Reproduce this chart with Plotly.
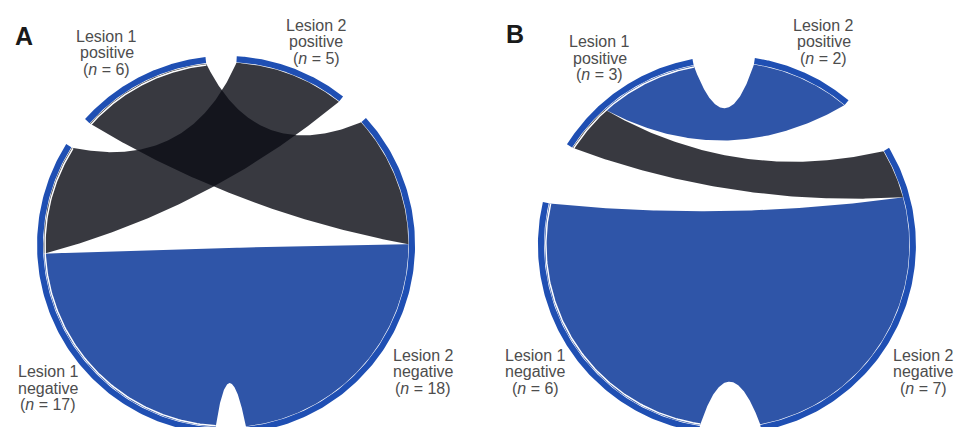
import numpy as np
import plotly.graph_objects as go

# ---------------- data ----------------
panel_letters = ["A", "B"]
status_names = ["positive", "negative"]
lesion_names = ["Lesion 1", "Lesion 2"]
# counts[lesion1 status][lesion2 status]; status order: positive, negative
counts_A = [[0, 6], [5, 12]]
counts_B = [[2, 1], [0, 6]]
panel_counts = [counts_A, counts_B]

# ---------------- style ----------------
BAND = "#1f4fb3"
BLUE = "#2f55a8"
DARK = "rgba(12,14,22,0.82)"
TEXT = "#4d4d4d"
FONT = "Liberation Sans, Arial, sans-serif"
GAP = [9.5, 19.0]          # degrees between sectors per panel
ROT = [1.5, 1.0]           # rotation of the layout per panel
R_OUT, R_IN, R_LINK, R_WHITE = 1.0, 0.968, 0.965, 0.958
K_CTRL = 0.52

# axis ranges (1 unit = 189 px)
x_ranges = [[-1.196, 1.333], [-1.317, 1.212]]
y_range = [-0.963, 1.296]


def pt(a, r):
    t = np.deg2rad(a)
    return np.array([r * np.cos(t), r * np.sin(t)])


def arc(a1, a2, r, n=120):
    t = np.deg2rad(np.linspace(a1, a2, n))
    return np.column_stack([r * np.cos(t), r * np.sin(t)])


def bez(p0, p2, n=120):
    c = K_CTRL * (p0 + p2) / 2
    t = np.linspace(0, 1, n)[:, None]
    return (1 - t) ** 2 * p0 + 2 * t * (1 - t) * c + t ** 2 * p2


def layout_sectors(counts, gap, rot):
    l1 = [sum(counts[0]), sum(counts[1])]
    l2 = [counts[0][0] + counts[1][0], counts[0][1] + counts[1][1]]
    total = sum(l1) + sum(l2)
    u = (360 - 4 * gap) / total
    s = 90 + rot + gap / 2
    sec = {}
    sec[(0, 0)] = (s, s + l1[0] * u)
    s = sec[(0, 0)][1] + gap
    sec[(0, 1)] = (s, s + l1[1] * u)
    s = sec[(0, 1)][1] + gap
    sec[(1, 1)] = (s, s + l2[1] * u)
    s = sec[(1, 1)][1] + gap
    sec[(1, 0)] = (s, s + l2[0] * u)
    return sec, u


fig = go.Figure()
annotations = []

label_pos = [
    {(0, 0): (-0.630, 1.016), (1, 0): (0.476, 1.074), (0, 1): (-0.942, -0.757), (1, 1): (1.042, -0.672)},
    {(0, 0): (-0.672, 0.989), (1, 0): (0.513, 1.074), (0, 1): (-1.011, -0.672), (1, 1): (1.040, -0.672)},
]
letter_pos = [(-1.069, 1.106), (-1.119, 1.116)]

for p, counts in enumerate(panel_counts):
    xa = "x" if p == 0 else "x2"
    ya = "y" if p == 0 else "y2"
    sec, u = layout_sectors(counts, GAP[p], ROT[p])

    # outer bands
    for key, (a1, a2) in sec.items():
        poly = np.vstack([arc(a1, a2, R_OUT), arc(a2, a1, R_IN)])
        fig.add_trace(go.Scatter(x=poly[:, 0], y=poly[:, 1], fill="toself", fillcolor=BAND,
                                 mode="lines", line=dict(width=0), hoverinfo="skip",
                                 showlegend=False, xaxis=xa, yaxis=ya))

    # link sub-segments
    seg1 = {}
    for i in (0, 1):
        a = sec[(0, i)][0]
        for j in (0, 1):
            w = counts[i][j] * u
            seg1[(i, j)] = (a, a + w)
            a += w
    seg2 = {}
    for j in (0, 1):
        a = sec[(1, j)][0]
        for i in (1, 0):
            w = counts[i][j] * u
            seg2[(i, j)] = (a, a + w)
            a += w

    links = [(i, j) for i in (0, 1) for j in (0, 1) if counts[i][j] > 0]
    links.sort(key=lambda k: 0 if k[0] == k[1] else 1)
    for (i, j) in links:
        a1, a2 = seg1[(i, j)]
        b1, b2 = seg2[(i, j)]
        poly = np.vstack([
            arc(a1, a2, R_LINK),
            bez(pt(a2, R_LINK), pt(b1, R_LINK)),
            arc(b1, b2, R_LINK),
            bez(pt(b2, R_LINK), pt(a1, R_LINK)),
        ])
        col = BLUE if i == j else DARK
        fig.add_trace(go.Scatter(x=poly[:, 0], y=poly[:, 1], fill="toself", fillcolor=col,
                                 mode="lines", line=dict(width=0), hoverinfo="skip",
                                 showlegend=False, xaxis=xa, yaxis=ya))

    # thin white line along Lesion 1 sectors
    for i in (0, 1):
        a1, a2 = sec[(0, i)]
        c = arc(a1, a2, R_WHITE)
        fig.add_trace(go.Scatter(x=c[:, 0], y=c[:, 1], mode="lines",
                                 line=dict(color="white", width=1.5), hoverinfo="skip",
                                 showlegend=False, xaxis=xa, yaxis=ya))

    # labels
    for les in (0, 1):
        for st in (0, 1):
            n = sum(counts[st]) if les == 0 else counts[0][st] + counts[1][st]
            lines = [lesion_names[les], status_names[st], f"(<i>n</i> = {n})"]
            x0, y0 = label_pos[p][(les, st)]
            for k, txt in enumerate(lines):
                annotations.append(dict(x=x0, y=y0, xref=xa, yref=ya, text=txt, showarrow=False,
                                        yshift=(1 - k) * 16.5, xanchor="center", yanchor="middle",
                                        font=dict(family=FONT, size=16, color=TEXT)))
    lx, ly = letter_pos[p]
    annotations.append(dict(x=lx, y=ly, xref=xa, yref=ya, text=f"<b>{panel_letters[p]}</b>",
                            showarrow=False, xanchor="center", yanchor="middle",
                            font=dict(family=FONT, size=25, color="#1a1a1a")))

ax = dict(visible=False, showgrid=False, zeroline=False, fixedrange=True)
fig.update_layout(
    width=956, height=427,
    margin=dict(l=0, r=0, t=0, b=0),
    paper_bgcolor="white", plot_bgcolor="white",
    xaxis=dict(domain=[0, 0.5], range=x_ranges[0], **ax),
    yaxis=dict(domain=[0, 1], range=y_range, **ax),
    xaxis2=dict(domain=[0.5, 1], range=x_ranges[1], **ax),
    yaxis2=dict(domain=[0, 1], range=y_range, anchor="x2", **ax),
    annotations=annotations,
    showlegend=False,
)
fig.write_html("out.html", config={"displayModeBar": False},
               post_script="document.body.style.margin='0';document.body.style.overflow='hidden';")
